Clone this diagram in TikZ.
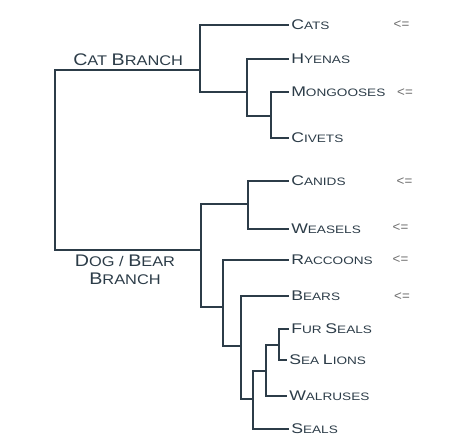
\documentclass[tikz,border=0pt]{standalone}
\usepackage{fontspec}
\newfontfamily\leaffont[FakeStretch=1.26]{Liberation Sans}
\newfontfamily\branchfont[FakeStretch=1.17]{Liberation Sans}
\newfontfamily\pickfont{Liberation Sans}
\definecolor{cladeblue}{RGB}{44,60,72}
\definecolor{pickgray}{RGB}{110,110,110}
% first letter full size, rest as small capitals
\newcommand\leafsc[2]{{\fontsize{10.5}{12}\selectfont#1}{\fontsize{8.1}{10}\selectfont#2}}
\newcommand\branchsc[2]{{\fontsize{12.6}{15}\selectfont#1}{\fontsize{10.5}{13.5}\selectfont#2}}

\begin{document}
\begin{tikzpicture}[x=0.75pt,y=-0.75pt,
    clade/.style={draw=cladeblue,line width=1.5pt},
    leaf/.style={anchor=west,inner sep=1.5pt,text=cladeblue,font=\leaffont\fontsize{8.1}{10}\selectfont},
    branch/.style={inner sep=0pt,text=cladeblue,align=center,font=\branchfont\fontsize{10.5}{13.5}\selectfont},
    pick/.style={inner sep=0pt,text=pickgray,font=\pickfont\fontsize{10}{12}\selectfont}]
  \useasboundingbox (0,0) rectangle (474,445);
  % split points
  \coordinate (root) at (55,160);
  \coordinate (cat) at (200,70);
  \coordinate (hyg) at (247,92);
  \coordinate (mong) at (271,116);
  \coordinate (dog) at (201,250);
  \coordinate (canid) at (248,204);
  \coordinate (arcto) at (223,307);
  \coordinate (bearg) at (241,346);
  \coordinate (pinn) at (253,399);
  \coordinate (walg) at (266,371);
  \coordinate (otar) at (279,345);
  % leaves
  \node[leaf] (cats) at (289,25) {\leafsc{C}{ATS}};
  \node[leaf] (hyenas) at (289,59) {\leafsc{H}{YENAS}};
  \node[leaf] (mongooses) at (289,92) {\leafsc{M}{ONGOOSES}};
  \node[leaf] (civets) at (289,138) {\leafsc{C}{IVETS}};
  \node[leaf] (canids) at (289,181) {\leafsc{C}{ANIDS}};
  \node[leaf] (weasels) at (289,229) {\leafsc{W}{EASELS}};
  \node[leaf] (raccoons) at (289,260) {\leafsc{R}{ACCOONS}};
  \node[leaf] (bears) at (289,296) {\leafsc{B}{EARS}};
  \node[leaf] (furseals) at (289,329) {\leafsc{F}{UR} \leafsc{S}{EALS}};
  \node[leaf] (sealions) at (287,360) {\leafsc{S}{EA} \leafsc{L}{IONS}};
  \node[leaf] (walruses) at (287,396) {\leafsc{W}{ALRUSES}};
  \node[leaf] (seals) at (289,429) {\leafsc{S}{EALS}};
  % branch labels
  \node[branch,anchor=base west] (catlabel) at (73,66) {\branchsc{C}{AT} \branchsc{B}{RANCH}};
  \node[branch,anchor=north] (doglabel) at (125,255) {\branchsc{D}{OG} / \branchsc{B}{EAR}\\\branchsc{B}{RANCH}};
  % markers
  \node[pick] (catspick) at (401.5,25) {<=};
  \node[pick] (mongpick) at (405,93) {<=};
  \node[pick] (canidpick) at (404.5,182) {<=};
  \node[pick] (weaselpick) at (400.5,228) {<=};
  \node[pick] (raccoonpick) at (400.5,260) {<=};
  \node[pick] (bearpick) at (402,297) {<=};
  % tree
  \draw[clade] (root) |- (cat) (root) |- (dog);
  \draw[clade] (cat) |- (cats.west) (cat) |- (hyg);
  \draw[clade] (hyg) |- (hyenas.west) (hyg) |- (mong);
  \draw[clade] (mong) |- (mongooses.west) (mong) |- (civets.west);
  \draw[clade] (dog) |- (canid) (dog) |- (arcto);
  \draw[clade] (canid) |- (canids.west) (canid) |- (weasels.west);
  \draw[clade] (arcto) |- (raccoons.west) (arcto) |- (bearg);
  \draw[clade] (bearg) |- (bears.west) (bearg) |- (pinn);
  \draw[clade] (pinn) |- (walg) (pinn) |- (seals.west);
  \draw[clade] (walg) |- (otar) (walg) |- (walruses.west);
  \draw[clade] (otar) |- (furseals.west) (otar) |- (sealions.west);
\end{tikzpicture}
\end{document}
